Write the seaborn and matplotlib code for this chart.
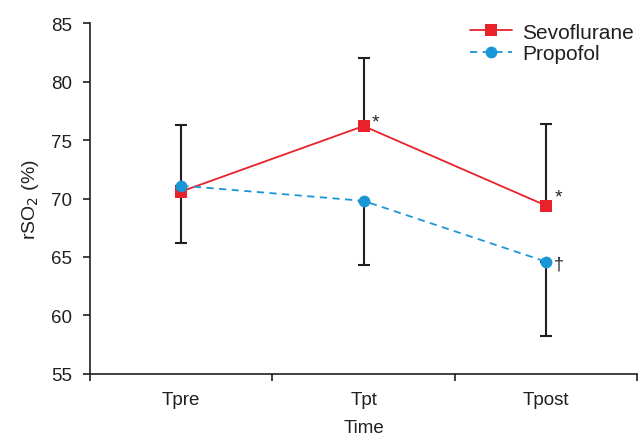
import matplotlib
matplotlib.use("Agg")
import matplotlib.pyplot as plt
import seaborn as sns
import pandas as pd

tiempos = ["Tpre", "Tpt", "Tpost"]
sevo_media = [70.6, 76.2, 69.4]
sevo_sup = [76.3, 82.0, 76.4]
prop_media = [71.1, 69.8, 64.6]
prop_inf = [66.2, 64.3, 58.2]

sns.set_style("ticks")
plt.rcParams["font.family"] = ["Liberation Sans", "DejaVu Sans"]

rojo = "#e8212b"
azul = "#1996d6"
negro = "#231f20"

datos = pd.DataFrame({
    "Time": tiempos * 2,
    "rSO2": sevo_media + prop_media,
    "Grupo": ["Sevoflurane"] * 3 + ["Propofol"] * 3,
})

fig = plt.figure(figsize=(6.39, 4.39), dpi=100)
ax = fig.add_axes([0.141, 0.146, 0.856, 0.799])

x = list(range(len(tiempos)))
# barras de error: sevo hacia arriba, propofol hacia abajo
ax.errorbar(x, sevo_media, yerr=[[0, 0, 0], [s - m for s, m in zip(sevo_sup, sevo_media)]],
            fmt="none", ecolor=negro, elinewidth=1.5, capsize=4.5, capthick=1.5, zorder=1)
ax.errorbar(x, prop_media, yerr=[[m - i for m, i in zip(prop_media, prop_inf)], [0, 0, 0]],
            fmt="none", ecolor=negro, elinewidth=1.5, capsize=4.5, capthick=1.5, zorder=1)

sns.lineplot(data=datos, x="Time", y="rSO2", hue="Grupo", style="Grupo",
             palette={"Sevoflurane": rojo, "Propofol": azul},
             markers={"Sevoflurane": "s", "Propofol": "o"},
             dashes={"Sevoflurane": "", "Propofol": (4, 3)},
             markersize=8.5, markeredgewidth=0, linewidth=1.3, ax=ax, zorder=3)

ax.annotate("*", (1, sevo_media[1]), textcoords="offset points", xytext=(6, 0), fontsize=14)
ax.annotate("*", (2, sevo_media[2]), textcoords="offset points", xytext=(6, 3), fontsize=14)
ax.annotate("†", (2, prop_media[2]), textcoords="offset points", xytext=(6, -5), fontsize=13)

ax.set_xlim(-0.5, 2.5)
ax.set_ylim(55, 85)
ax.set_yticks(range(55, 86, 5))
# marcas del eje x entre categorias, etiquetas en el centro
ax.set_xticks(x)
ax.set_xticklabels(tiempos)
ax.set_xticks([-0.5, 0.5, 1.5, 2.5], minor=True)
ax.tick_params(axis="x", which="major", length=0, pad=12)
ax.tick_params(axis="x", which="minor", length=5, width=1.2, color=negro)
ax.tick_params(axis="y", length=5, width=1.2, color=negro, pad=8)
ax.tick_params(labelsize=13.5, labelcolor=negro)
ax.set_xlabel("Time", fontsize=13.5, color=negro, labelpad=8)
ax.set_ylabel("rSO$_2$ (%)", fontsize=14, color=negro, labelpad=7)
for lado in ["left", "bottom"]:
    ax.spines[lado].set_linewidth(1.2)
    ax.spines[lado].set_color(negro)
sns.despine(ax=ax)

leg = ax.legend(loc="upper right", bbox_to_anchor=(1.01, 1.025), frameon=False, fontsize=15,
                handlelength=2.0, handletextpad=0.5, labelspacing=0.1, borderaxespad=0)
for texto in leg.get_texts():
    texto.set_color(negro)

fig.savefig("out.png", dpi=100)
